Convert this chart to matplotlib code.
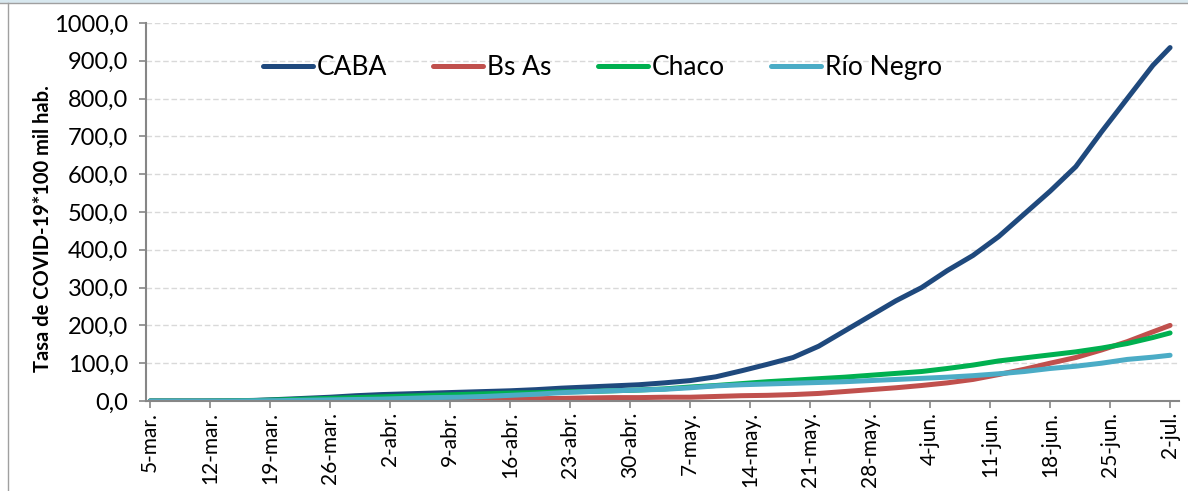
import numpy as np
import pandas as pd
import matplotlib
matplotlib.use("Agg")
import matplotlib.pyplot as plt
from matplotlib.patches import Rectangle

plt.rcParams['font.family'] = ['Lato', 'DejaVu Sans']

# sample dates (every 3 days from 5-mar-2020, plus 2-jul)
dates = list(pd.date_range("2020-03-05", periods=40, freq="3D")) + [pd.Timestamp("2020-07-02")]

caba = [0, 0, 0, 0.5, 1.5, 4, 7, 10, 14, 17, 19, 21, 23, 25, 27, 30, 34, 37, 40, 43,
        48, 54, 64, 80, 97, 115, 145, 185, 225, 265, 300, 345, 385, 435, 495, 555, 620,
        712, 800, 888, 935]
bsas = [0, 0, 0, 0, 0, 0, 0, 0, 0, 0, 0, 0.5, 2, 4, 5, 6, 7, 8, 9, 9,
        10, 10, 12, 14, 15, 17, 20, 25, 30, 35, 41, 48, 57, 70, 84, 100, 115,
        135, 157, 183, 200]
chaco = [0, 0, 0, 0.5, 1, 3, 5, 7, 9, 11, 13, 15, 17, 19, 21, 22, 24, 25, 27, 29,
         32, 37, 41, 46, 51, 55, 59, 63, 68, 73, 78, 86, 95, 106, 114, 122, 130,
         140, 152, 168, 180]
rionegro = [0, 0, 0, 0, 0.5, 1, 2, 3, 4, 5, 7, 9, 10, 12, 15, 18, 22, 25, 27, 29,
            31, 35, 40, 43, 45, 47, 49, 51, 54, 57, 60, 63, 67, 72, 78, 86, 92,
            100, 110, 116, 121]

series_names = ["CABA", "Bs As", "Chaco", "Río Negro"]
series_colors = ["#1F497D", "#C0504D", "#00B050", "#4BACC6"]

tick_dates = ["2020-03-05", "2020-03-12", "2020-03-19", "2020-03-26", "2020-04-02",
              "2020-04-09", "2020-04-16", "2020-04-23", "2020-04-30", "2020-05-07",
              "2020-05-14", "2020-05-21", "2020-05-28", "2020-06-04", "2020-06-11",
              "2020-06-18", "2020-06-25", "2020-07-02"]
tick_labels = ["5-mar.", "12-mar.", "19-mar.", "26-mar.", "2-abr.", "9-abr.", "16-abr.",
               "23-abr.", "30-abr.", "7-may.", "14-may.", "21-may.", "28-may.", "4-jun.",
               "11-jun.", "18-jun.", "25-jun.", "2-jul."]

y_ticks = [0, 100, 200, 300, 400, 500, 600, 700, 800, 900, 1000]
y_label = "Tasa de COVID-19*100 mil hab."

W, H = 1188, 491
fig = plt.figure(figsize=(W / 100, H / 100), dpi=100)
fig.patch.set_facecolor("white")

# outer frame (cropped chart area)
fig.patches.append(Rectangle((0, 488 / H), 1, 3 / H, transform=fig.transFigure,
                             facecolor="#d8e8ef", edgecolor="none", zorder=0))
fig.lines.append(plt.Line2D([0, 1], [488 / H, 488 / H], transform=fig.transFigure,
                            color="#a0a0a0", lw=1))
fig.lines.append(plt.Line2D([8 / W, 8 / W], [0, 488 / H], transform=fig.transFigure,
                            color="#a0a0a0", lw=1))

ax = fig.add_axes([146 / W, (H - 401) / H, (1179 - 146) / W, (401 - 23) / H])

for vals, name, col in zip([caba, bsas, chaco, rionegro], series_names, series_colors):
    ax.plot(dates, vals, color=col, lw=3.6, label=name, solid_capstyle="round",
            solid_joinstyle="round")

ax.set_ylim(0, 1000)
ax.set_yticks(y_ticks)
ax.set_yticklabels([f"{v:.1f}".replace(".", ",") for v in y_ticks])
ax.set_xlim(pd.Timestamp("2020-03-05") - pd.Timedelta(hours=12),
            pd.Timestamp("2020-07-02") + pd.Timedelta(hours=25))
ax.set_xticks([pd.Timestamp(d) for d in tick_dates])
ax.set_xticklabels(tick_labels, rotation=90)

ax.yaxis.grid(True, color="#d9d9d9", ls=(0, (4, 2)), lw=1)
ax.set_axisbelow(True)
for s in ["top", "right"]:
    ax.spines[s].set_visible(False)
for s in ["left", "bottom"]:
    ax.spines[s].set_color("#868686")
    ax.spines[s].set_linewidth(1.5)
ax.tick_params(axis="both", colors="#868686", length=5, width=1.2, direction="out")
ax.tick_params(axis="y", labelsize=17, labelcolor="black", pad=8)
ax.tick_params(axis="x", labelsize=15, labelcolor="black", pad=3)

ax.set_ylabel(y_label, fontsize=14.5, fontweight="bold")
ax.yaxis.set_label_coords(-0.090, 0.455)

leg = ax.legend(loc="center", bbox_to_anchor=(0.442, 0.881), ncol=4, frameon=False,
                fontsize=19, handlelength=1.9, handletextpad=0.15, columnspacing=1.75)
for h in leg.get_lines():
    h.set_linewidth(3.6)

fig.savefig("out.png", dpi=100)
